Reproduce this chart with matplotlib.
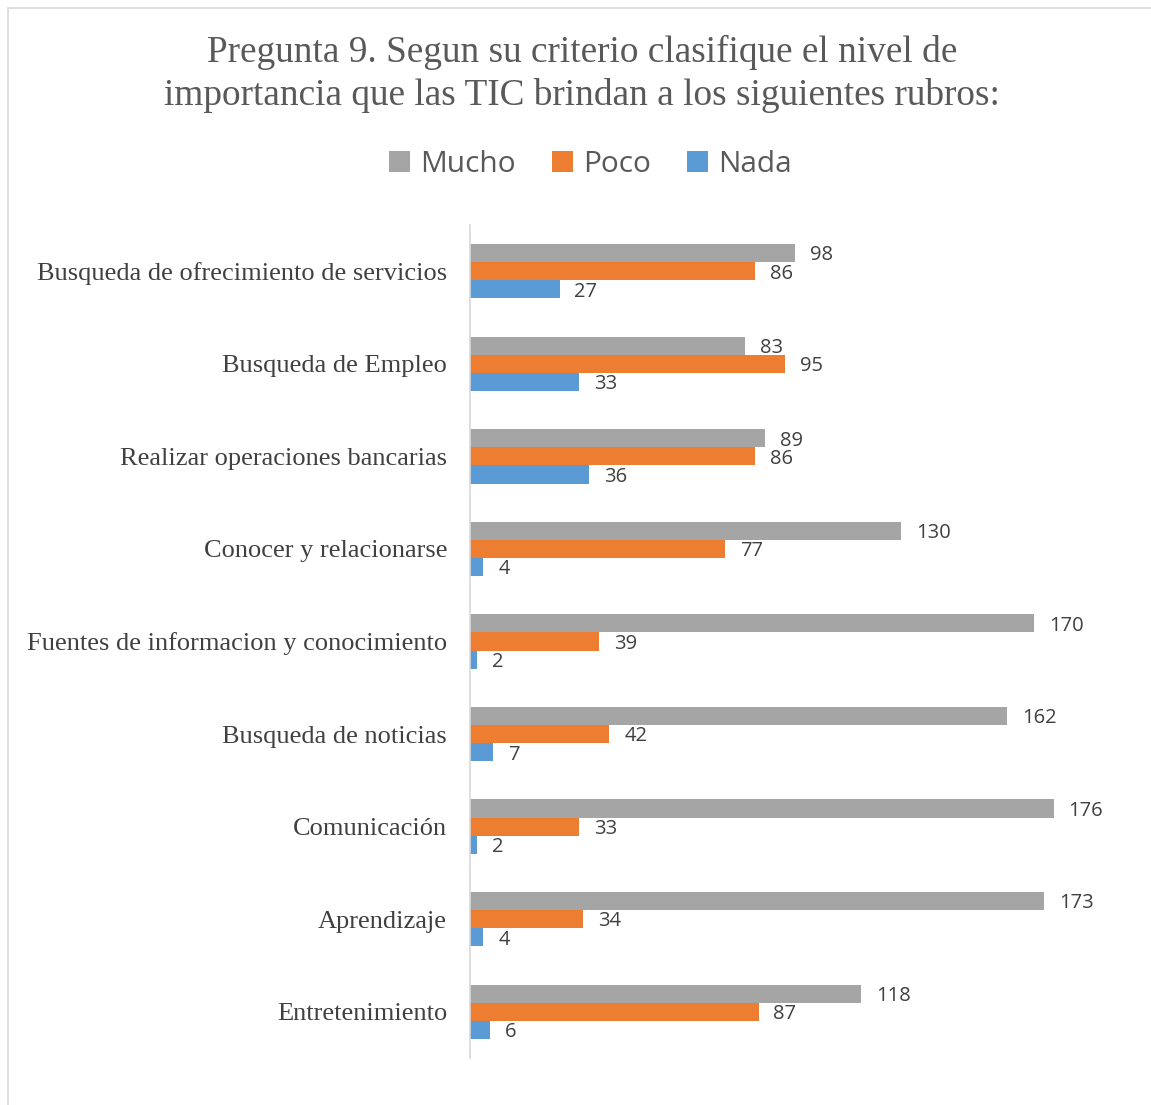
import matplotlib.pyplot as plt
import numpy as np
from matplotlib.patches import Rectangle

categories = ['Busqueda de ofrecimiento de servicios', 'Busqueda de Empleo',
              'Realizar operaciones bancarias', 'Conocer y relacionarse',
              'Fuentes de informacion y conocimiento', 'Busqueda de noticias',
              'Comunicación', 'Aprendizaje', 'Entretenimiento']
mucho = [98, 83, 89, 130, 170, 162, 176, 173, 118]
poco = [86, 95, 86, 77, 39, 42, 33, 34, 87]
nada = [27, 33, 36, 4, 2, 7, 2, 4, 6]

series = [('Mucho', mucho, '#A5A5A5'), ('Poco', poco, '#ED7D31'), ('Nada', nada, '#5B9BD5')]

fig = plt.figure(figsize=(11.51, 11.05), dpi=100)
fig.patches.append(Rectangle((0.007, -0.01), 1.0, 1.003, transform=fig.transFigure,
                             fill=False, edgecolor='#D9D9D9', linewidth=1.2))
ax = fig.add_axes([470 / 1151, 1 - 1058 / 1105, 660 / 1151, 833 / 1105])

y = np.arange(len(categories))
h = 0.196
for i, (name, vals, col) in enumerate(series):
    pos = y + (i - 1) * h
    ax.barh(pos, vals, height=h, color=col, label=name)
    for p, v in zip(pos, vals):
        ax.text(v + 4.5, p + 0.025, str(v), va='center', ha='left', fontsize=14.5,
                family='Open Sans', color='#404040')

ax.set_ylim(len(categories) - 0.5, -0.5)
ax.set_xlim(0, 199)
ax.set_yticks(y)
ax.set_yticklabels(categories, family='Liberation Serif', fontsize=19, color='#404040')
ax.tick_params(axis='y', length=0, pad=16.5)
ax.set_xticks([])
for s in ['top', 'right', 'bottom']:
    ax.spines[s].set_visible(False)
ax.spines['left'].set_color('#D9D9D9')
ax.spines['left'].set_linewidth(1.2)

fig.text(0.506, 1 - 74 / 1105, 'Pregunta 9. Segun su criterio clasifique el nivel de\n'
         'importancia que las TIC brindan a los siguientes rubros:',
         ha='center', va='center', family='Liberation Serif', fontsize=26.8,
         color='#595959', linespacing=1.3)

leg = fig.legend(loc='center', bbox_to_anchor=(0.513, 1 - 164 / 1105), ncol=3,
                 frameon=False, prop={'family': 'Open Sans', 'size': 21.5},
                 handlelength=0.7, handleheight=0.7, handletextpad=0.35,
                 columnspacing=1.2)
for t in leg.get_texts():
    t.set_color('#595959')

fig.savefig('out.png', dpi=100)
